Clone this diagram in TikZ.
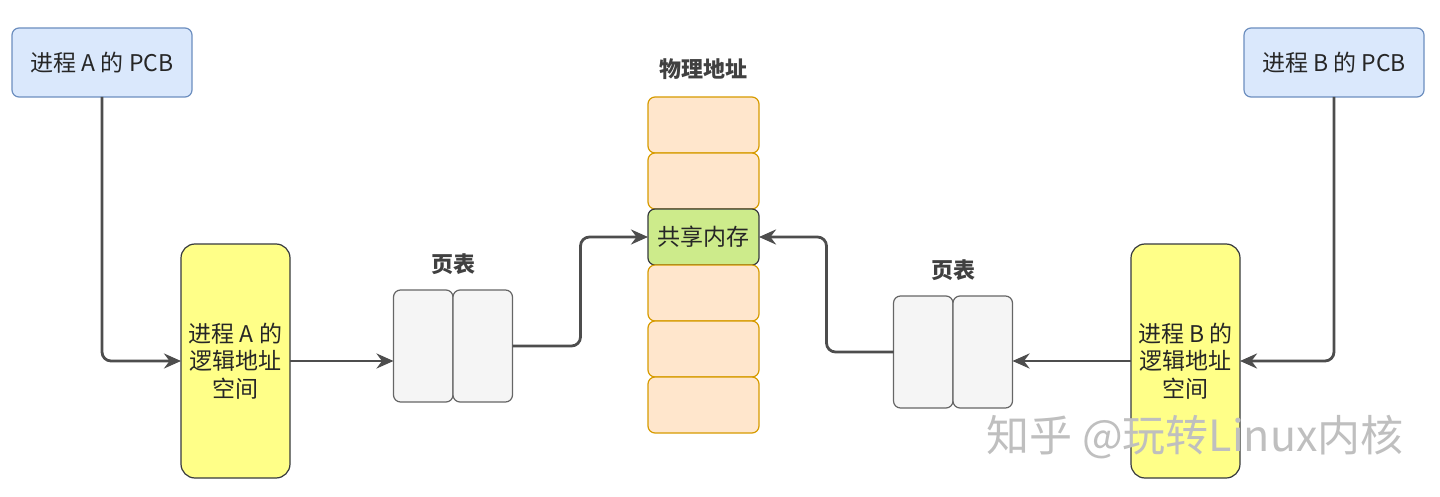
\documentclass[tikz,border=0pt]{standalone}
\usepackage{fontspec}
\setmainfont{Noto Sans CJK SC}
\usetikzlibrary{positioning,arrows.meta}
\definecolor{pcbfill}{HTML}{DAE8FC}
\definecolor{pcbline}{HTML}{6C8EBF}
\definecolor{logfill}{HTML}{FFFF88}
\definecolor{darkline}{HTML}{36393D}
\definecolor{ptfill}{HTML}{F5F5F5}
\definecolor{ptline}{HTML}{666666}
\definecolor{memfill}{HTML}{FFE6CC}
\definecolor{memline}{HTML}{D79B00}
\definecolor{shfill}{HTML}{CDEB8B}
\definecolor{arrowcol}{HTML}{4D4D4D}
\begin{document}
\begin{tikzpicture}[x=1pt, y=-1pt, every node/.style={font=\fontsize{23}{27.5}\selectfont, outer sep=0pt, text=black!85},
  pcb/.style={draw=pcbline, fill=pcbfill, rounded corners=7pt, line width=1.2pt, minimum width=180pt, minimum height=69pt},
  logic/.style={draw=darkline, fill=logfill, rounded corners=14pt, line width=1.2pt, minimum width=109pt, minimum height=234pt, align=center},
  ptcell/.style={draw=ptline, fill=ptfill, rounded corners=7pt, line width=1.2pt, minimum width=59.5pt, minimum height=112pt},
  memcell/.style={draw=memline, fill=memfill, rounded corners=7pt, line width=1.2pt, minimum width=111pt, minimum height=56pt},
  title/.style={font=\fontsize{22}{26}\selectfont\bfseries, text=black!75},
  link/.style={draw=arrowcol, line width=2.8pt, rounded corners=9pt, -{Stealth[length=17pt,width=15pt]}}]
  \useasboundingbox (0,0) rectangle (1440,497);
  % process A
  \node[pcb] (pcbA) at (102,62.5) {进程 A 的 PCB};
  \node[logic] (logA) at (235.5,361) {进程 A 的\\逻辑地址\\空间};
  \node[ptcell] (ptA1) at (423.25,346) {};
  \node[ptcell, right=0pt of ptA1] (ptA2) {};
  \node[title, above=12pt of ptA1.north east] (ptAlabel) {页表};
  % physical memory
  \node[memcell] (mem1) at (703.5,125) {};
  \node[memcell, below=0pt of mem1] (mem2) {};
  \node[memcell, below=0pt of mem2, fill=shfill, draw=darkline] (shared) {共享内存};
  \node[memcell, below=0pt of shared] (mem4) {};
  \node[memcell, below=0pt of mem4] (mem5) {};
  \node[memcell, below=0pt of mem5] (mem6) {};
  \node[title, above=14pt of mem1] (memlabel) {物理地址};
  % process B
  \node[pcb] (pcbB) at (1334,62.5) {进程 B 的 PCB};
  \node[logic] (logB) at (1185.5,361) {进程 B 的\\逻辑地址\\空间};
  \node[ptcell] (ptB1) at (923.25,352) {};
  \node[ptcell, right=0pt of ptB1] (ptB2) {};
  \node[title, above=12pt of ptB1.north east] (ptBlabel) {页表};
  % links
  \draw[link] (pcbA.south) |- (logA.west);
  \draw[link] (logA.east) -- (logA.east -| ptA1.west);
  \draw[link] (ptA2.east) -- ++(68,0) |- (shared.west);
  \draw[link] (pcbB.south) |- (logB.east);
  \draw[link] (logB.west) -- (logB.west -| ptB2.east);
  \draw[link] (ptB1.west) -- ++(-67,0) |- (shared.east);
  % watermark
  \node[font=\fontsize{43}{47}\selectfont, text=black!25] (mark) at (1195,437) {知乎 @玩转Linux内核};
\end{tikzpicture}
\end{document}
